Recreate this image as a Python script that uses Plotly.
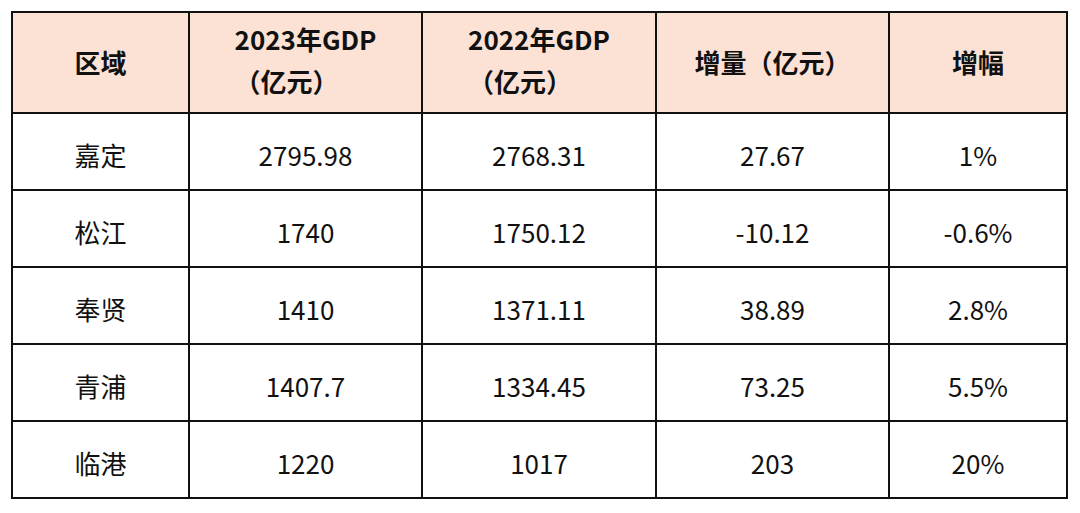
import plotly.graph_objects as go

# Table content
headers = ["区域", "2023年GDP<br>（亿元）", "2022年GDP<br>（亿元）", "增量（亿元）", "增幅"]
regions = ["嘉定", "松江", "奉贤", "青浦", "临港"]
gdp_2023 = ["2795.98", "1740", "1410", "1407.7", "1220"]
gdp_2022 = ["2768.31", "1750.12", "1371.11", "1334.45", "1017"]
increase = ["27.67", "-10.12", "38.89", "73.25", "203"]
growth = ["1%", "-0.6%", "2.8%", "5.5%", "20%"]

W, H = 1080, 513
FONT = "Noto Sans CJK SC, Noto Sans, sans-serif"
INK = "#111111"


def header_text(h):
    # single-line headers get a thin spacer line so they sit mid-cell
    body = f"<b><span style='font-size:26px'>{h}</span></b>"
    return body if "<br>" in h else "&nbsp;<br>" + body


def cell_text(v):
    return f"&nbsp;<br><span style='font-size:26px'>{v}</span>"


header_sizes = [21.5 if "<br>" not in h else 32.5 for h in headers]

fig = go.Figure(
    go.Table(
        columnwidth=[177, 233, 234, 233, 178],
        header=dict(
            values=[header_text(h) for h in headers],
            fill_color="#FBE2D5",
            line=dict(color=INK, width=2.5),
            align="center",
            font=dict(family=FONT, size=header_sizes, color=INK),
            height=101,
        ),
        cells=dict(
            values=[[cell_text(v) for v in col] for col in [regions, gdp_2023, gdp_2022, increase, growth]],
            fill_color="white",
            line=dict(color=INK, width=2.5),
            align="center",
            font=dict(family=FONT, size=18.5, color=INK),
            height=77,
        ),
        domain=dict(x=[4 / W, 1059 / W], y=[0, 1 - 4 / H]),
    )
)

fig.update_layout(
    width=W,
    height=H,
    margin=dict(l=0, r=0, t=0, b=0),
    paper_bgcolor="white",
)

fig.write_html("out.html")
